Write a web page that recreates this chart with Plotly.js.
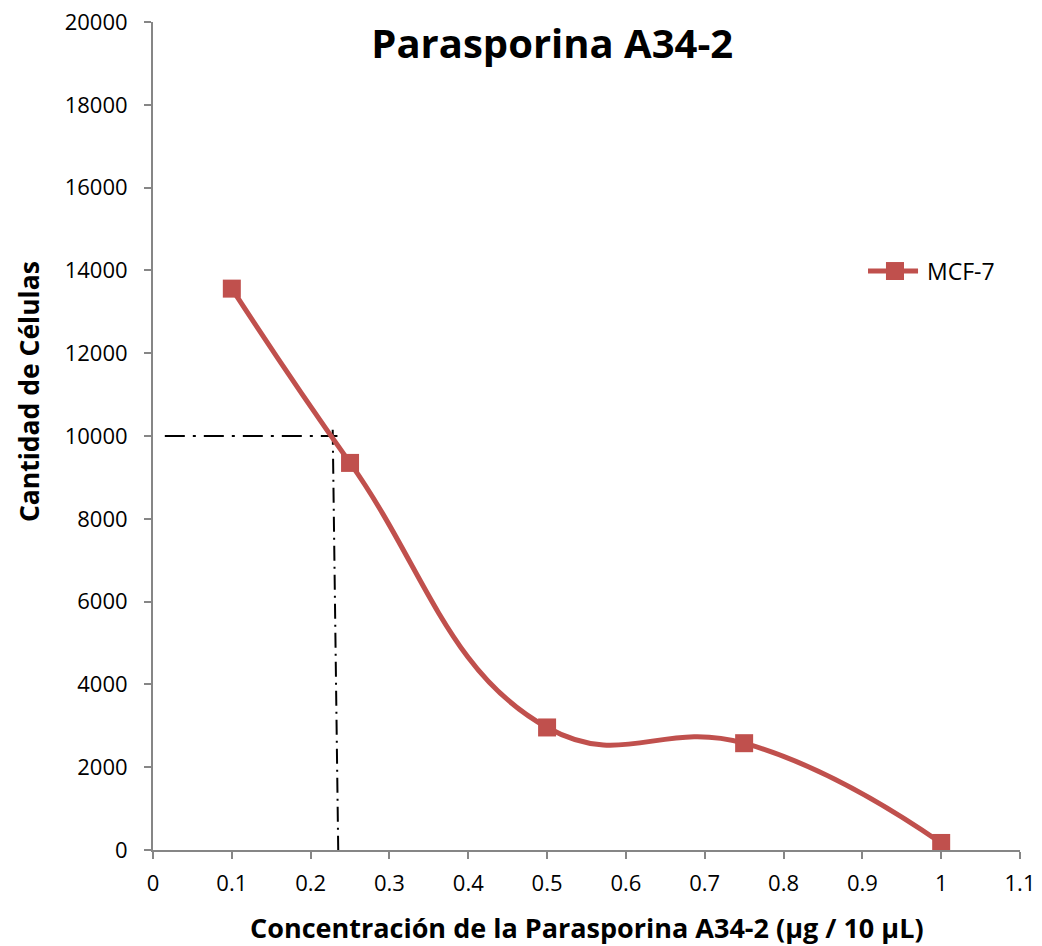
<!DOCTYPE html>
<html>
<head>
<meta charset="utf-8">
<script src="https://cdn.plot.ly/plotly-3.0.1.min.js"></script>
<style>
  html, body { margin: 0; padding: 0; background: #fff; }
  #chart { width: 1042px; height: 946px; }
</style>
</head>
<body>
<div id="chart"></div>
<script>
// Cell counts of MCF-7 against parasporin concentration
const seriesName = 'MCF-7';
const concentration = [0.1, 0.25, 0.5, 0.75, 1];
const cellCount = [13560, 9350, 2960, 2580, 170];

// Reference guide at 10000 cells and the matching concentration
const guideLevel = 10000;
const guideStartX = 0.015;
const guideConc = 0.228;
const guideConcAtZero = 0.235;

const xTicks = [0, 0.1, 0.2, 0.3, 0.4, 0.5, 0.6, 0.7, 0.8, 0.9, 1, 1.1];
const yTicks = [0, 2000, 4000, 6000, 8000, 10000, 12000, 14000, 16000, 18000, 20000];

const red = '#C0504D';
const axisGrey = '#868686';
const font = 'Open Sans, Noto Sans, sans-serif';

const traces = [
  {
    x: [guideStartX, guideConc + 0.006],
    y: [guideLevel, guideLevel],
    mode: 'lines',
    line: { color: '#000', width: 2, dash: '20px,8px,3px,8px' },
    showlegend: false,
    hoverinfo: 'skip'
  },
  {
    x: [guideConc, guideConcAtZero],
    y: [guideLevel + 150, 0],
    mode: 'lines',
    line: { color: '#000', width: 2, dash: '15px,6px,2px,6px' },
    showlegend: false,
    hoverinfo: 'skip'
  },
  {
    x: concentration,
    y: cellCount,
    name: seriesName,
    mode: 'lines+markers',
    showlegend: false,
    line: { color: red, width: 5, shape: 'spline', smoothing: 1.3 },
    marker: { symbol: 'square', size: 18, color: red, line: { color: red, width: 0 } }
  }
];

// Legend key drawn in paper space: a short line with a square and the label
const key = { x0: 0.8247, x1: 0.8824, y: 0.6993, sq0: 0.8454, sq1: 0.8662, sqTop: 0.7101, sqBot: 0.6884, textX: 0.8904 };

const layout = {
  width: 1042,
  height: 946,
  margin: { l: 153, r: 22, t: 22, b: 96 },
  paper_bgcolor: '#fff',
  plot_bgcolor: '#fff',
  showlegend: false,
  font: { family: font, size: 22, color: '#000' },
  title: {
    text: '<b>Parasporina A34-2</b>',
    font: { family: font, size: 40, color: '#000' },
    x: 0.53, xanchor: 'center', xref: 'container',
    y: 0.953, yanchor: 'middle', yref: 'container'
  },
  xaxis: {
    range: [0, 1.1],
    tickvals: xTicks,
    ticktext: xTicks.map(String),
    showgrid: false,
    zeroline: false,
    showline: true,
    linecolor: axisGrey,
    linewidth: 2,
    ticks: 'outside',
    ticklen: 7,
    tickwidth: 2,
    tickcolor: axisGrey,
    tickfont: { family: font, size: 22 },
    ticklabelstandoff: 6
  },
  yaxis: {
    range: [0, 20000],
    tickvals: yTicks,
    ticktext: yTicks.map(String),
    showgrid: false,
    zeroline: false,
    showline: true,
    linecolor: axisGrey,
    linewidth: 2,
    ticks: 'outside',
    ticklen: 7,
    tickwidth: 2,
    tickcolor: axisGrey,
    tickfont: { family: font, size: 22 },
    ticklabelstandoff: 12
  },
  shapes: [
    {
      type: 'line', xref: 'paper', yref: 'paper',
      x0: key.x0, x1: key.x1, y0: key.y, y1: key.y,
      line: { color: red, width: 5 }
    },
    {
      type: 'rect', xref: 'paper', yref: 'paper',
      x0: key.sq0, x1: key.sq1, y0: key.sqBot, y1: key.sqTop,
      fillcolor: red, line: { width: 0 }
    }
  ],
  annotations: [
    {
      text: seriesName,
      xref: 'paper', yref: 'paper',
      x: key.textX, y: key.y, xanchor: 'left', yanchor: 'middle',
      showarrow: false,
      font: { family: font, size: 23, color: '#000' }
    },
    {
      text: '<b>Concentración de la Parasporina A34-2 (µg / 10 µL)</b>',
      xref: 'paper', yref: 'paper',
      x: 0.5, y: 0, xanchor: 'center', yanchor: 'middle',
      yshift: -77,
      showarrow: false,
      font: { family: font, size: 27, color: '#000' }
    },
    {
      text: '<b>Cantidad de Células</b>',
      xref: 'paper', yref: 'paper',
      x: 0, y: 0.553, xanchor: 'center', yanchor: 'middle',
      xshift: -124,
      textangle: -90,
      showarrow: false,
      font: { family: font, size: 26.5, color: '#000' }
    }
  ]
};

Plotly.newPlot('chart', traces, layout, { displayModeBar: false, staticPlot: true });
</script>
</body>
</html>
